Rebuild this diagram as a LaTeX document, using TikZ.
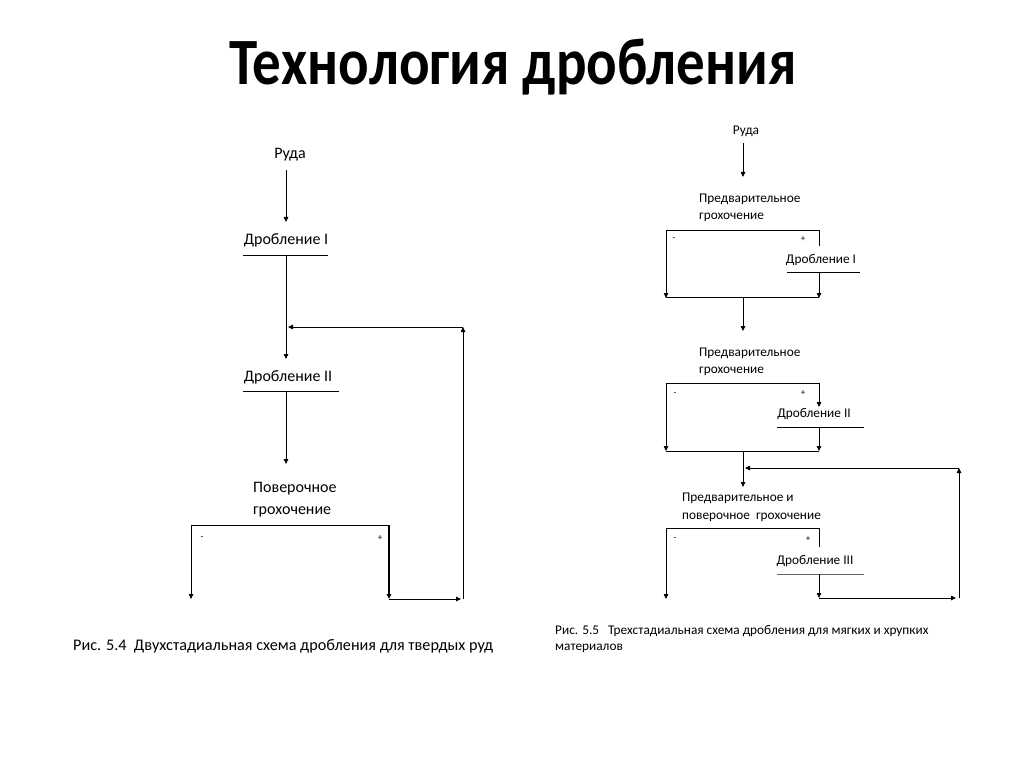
\documentclass[tikz,border=0pt]{standalone}
\usepackage{fontspec}
\setmainfont{Carlito}
\usetikzlibrary{arrows.meta}
\tikzset{
  ln/.style={line width=0.8pt, draw=black},
  arr/.style={ln, -{Triangle[length=5pt,width=4.5pt]}},
  lbl/.style={inner sep=0pt, font=\fontsize{16}{18}\selectfont},
  slbl/.style={inner sep=0pt, font=\fontsize{13.3}{15}\selectfont},
  pm/.style={inner sep=0pt, font=\fontsize{9}{10}\selectfont},
  lcaption/.style={inner sep=0pt, font=\fontsize{16.2}{19}\selectfont, anchor=west},
  rcaption/.style={inner sep=0pt, font=\fontsize{13.3}{15}\selectfont, anchor=west},
}
\begin{document}
\begin{tikzpicture}[x=1pt,y=-1pt]
\useasboundingbox (0,0) rectangle (1024,767);
\node[inner sep=0pt, anchor=base, font=\fontsize{57}{60}\selectfont\bfseries] (title) at (513,85) {\scalebox{1}[1.16]{Технология дробления}};

% ---------- left scheme ----------
\node[lbl] (ruda1) at (290,155) {Руда};
\node[lbl] (dr1) at (286,240) {Дробление I};
\node[lbl] (dr2) at (288,377) {Дробление II};
\node[lbl, anchor=west] (pov1) at (253,489) {Поверочное};
\node[lbl, anchor=west] (pov2) at (253,512) {грохочение};
\node[pm] (m1) at (202,538) {-};
\node[pm] (p1) at (380,538) {+};

\coordinate (a1) at (286,170);
\coordinate (a2) at (286,222);
\coordinate (u1a) at (243,255);
\coordinate (u1b) at (328,255);
\coordinate (u1m) at (286,255);
\coordinate (a3) at (286,359);
\coordinate (j1) at (288,327);
\coordinate (u2a) at (243,391);
\coordinate (u2b) at (339,391);
\coordinate (u2m) at (286,391);
\coordinate (a4) at (286,464);
\coordinate (s1l) at (191,525);
\coordinate (s1r) at (389,525);
\coordinate (s1lb) at (191,599);
\coordinate (s1rb) at (389,599);
\coordinate (fbb) at (463,599);
\coordinate (fbh) at (461,599);
\coordinate (fbt) at (463,327);

\draw[arr] (a1) -- (a2);
\draw[ln] (u1a) -- (u1b);
\draw[arr] (u1m) -- (a3);
\draw[ln] (u2a) -- (u2b);
\draw[arr] (u2m) -- (a4);
\draw[ln] (s1l) -- (s1r);
\draw[arr] (s1l) -- (s1lb);
\draw[arr, line width=1.3pt] (s1r) -- (s1rb);
\draw[arr] (s1rb) -- (fbh);
\draw[arr] (fbb) -- (fbt);
\draw[arr] (fbt) -- (j1);

\node[lcaption] (cap1) at (73,646) {Рис. 5.4\ \ Двухстадиальная схема дробления для твердых руд};

% ---------- right scheme ----------
\node[slbl] (ruda2) at (746,131) {Руда};
\node[slbl, anchor=west] (pg1a) at (699,199) {Предварительное};
\node[slbl, anchor=west] (pg1b) at (699,217) {грохочение};
\node[pm] (m2) at (674,239) {-};
\node[pm] (p2) at (803,239) {+};
\node[slbl] (rd1) at (821,260) {Дробление I};

\node[slbl, anchor=west] (pg2a) at (699,353) {Предварительное};
\node[slbl, anchor=west] (pg2b) at (699,371) {грохочение};
\node[pm] (m3) at (675,394) {-};
\node[pm] (p3) at (803,393) {+};
\node[slbl] (rd2) at (814,414) {Дробление II};

\node[slbl, anchor=west] (pg3a) at (682,498) {Предварительное и};
\node[slbl, anchor=west] (pg3b) at (682,517) {поверочное\ \ грохочение};
\node[pm] (m4) at (675,539) {-};
\node[pm] (p4) at (808,539) {+};
\node[slbl] (rd3) at (815,561) {Дробление III};

\coordinate (b1) at (743,143);
\coordinate (b2) at (743,177);
\coordinate (t1l) at (666,230);
\coordinate (t1r) at (819,230);
\coordinate (t1rs) at (819,246);
\coordinate (t1lb) at (666,298);
\coordinate (v1a) at (787,272);
\coordinate (v1b) at (860,272);
\coordinate (v1m) at (819,272);
\coordinate (t1rb) at (819,298);
\coordinate (t1bl) at (666,297);
\coordinate (t1br) at (819,297);
\coordinate (t1bm) at (743,297);
\coordinate (b3) at (743,331);

\coordinate (t2l) at (666,383);
\coordinate (t2r) at (819,383);
\coordinate (t2rs) at (819,407);
\coordinate (v2a) at (777,427);
\coordinate (v2b) at (864,427);
\coordinate (v2m) at (819,427);
\coordinate (t2rb) at (819,451);
\coordinate (t2lb) at (666,451);
\coordinate (t2bl) at (666,451);
\coordinate (t2br) at (819,451);
\coordinate (t2bm) at (743,451);
\coordinate (b4) at (743,487);
\coordinate (j2) at (745,468);

\coordinate (t3l) at (666,528);
\coordinate (t3r) at (819,528);
\coordinate (t3rs) at (819,547);
\coordinate (v3a) at (777,574);
\coordinate (v3b) at (864,574);
\coordinate (v3m) at (819,574);
\coordinate (t3rb) at (819,598);
\coordinate (t3lb) at (666,599);
\coordinate (fb2h) at (956,598);
\coordinate (fb2b) at (959,598);
\coordinate (fb2t) at (959,468);

\draw[arr] (b1) -- (b2);
\draw[ln] (t1l) -- (t1r) -- (t1rs);
\draw[arr] (t1l) -- (t1lb);
\draw[ln] (v1a) -- (v1b);
\draw[arr] (v1m) -- (t1rb);
\draw[ln] (t1bl) -- (t1br);
\draw[arr] (t1bm) -- (b3);

\draw[ln] (t2l) -- (t2r);
\draw[arr] (t2r) -- (t2rs);
\draw[arr] (t2l) -- (t2lb);
\draw[ln] (v2a) -- (v2b);
\draw[arr] (v2m) -- (t2rb);
\draw[ln] (t2bl) -- (t2br);
\draw[arr] (t2bm) -- (b4);

\draw[ln] (t3l) -- (t3r) -- (t3rs);
\draw[arr] (t3l) -- (t3lb);
\draw[ln, draw=black!60] (v3a) -- (v3b);
\draw[arr] (v3m) -- (t3rb);
\draw[arr] (t3rb) -- (fb2h);
\draw[arr] (fb2b) -- (fb2t);
\draw[arr] (fb2t) -- (j2);

\node[rcaption] (cap2a) at (555,631) {Рис. 5.5\ \ \ Трехстадиальная схема дробления для мягких и хрупких};
\node[rcaption] (cap2b) at (555,648) {материалов};
\end{tikzpicture}
\end{document}
